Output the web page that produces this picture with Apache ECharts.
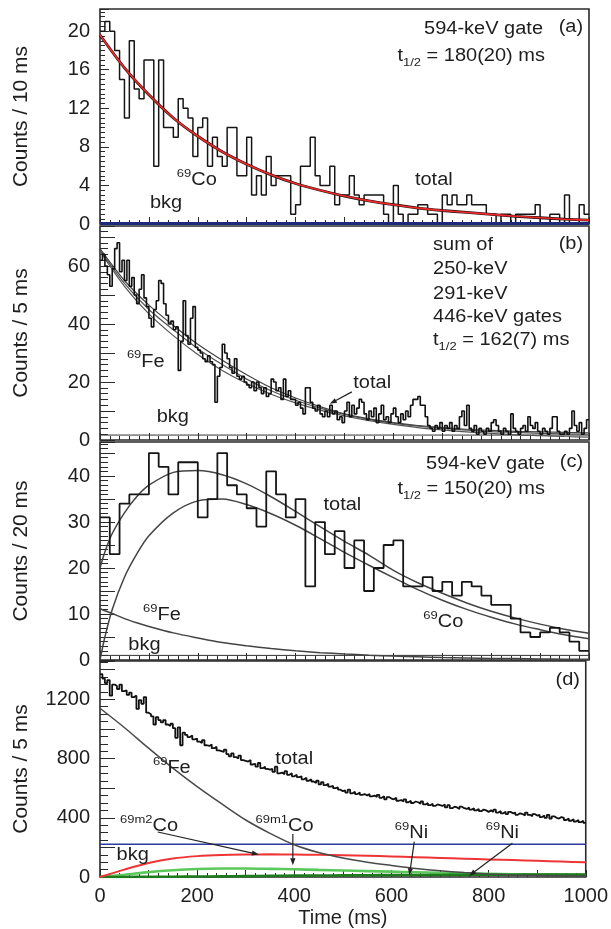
<!DOCTYPE html>
<html>
<head>
<meta charset="utf-8">
<script src="https://cdn.jsdelivr.net/npm/echarts@6/dist/echarts.min.js"></script>
<style>
  html, body { margin: 0; padding: 0; background: #fff; }
  #chart { width: 611px; height: 929px; }
</style>
</head>
<body>
<div id="chart"></div>
<script>
// ---------- (a) 594-keV gate, 10 ms bins ----------
const binWidthA = 10;
const countsA = [
  20, 21, 20, 18, 15, 11, 19, 14, 13, 17,
  17, 6, 17, 10, 10, 9, 13, 12, 11, 7,
  10, 11, 6, 9, 7, 6, 10, 10, 5, 5,
  9, 3, 5, 3, 7, 4, 5, 5, 5, 1,
  2, 6, 6, 9, 5, 4, 4, 6, 2, 3,
  3, 5, 3, 2, 3, 3, 3, 3, 1, 0,
  4, 1, 0, 1, 1, 2, 2, 1, 1, 0,
  3, 2, 3, 2, 2, 3, 2, 2, 2, 1,
  1, 0, 1, 1, 0, 1, 1, 1, 1, 2,
  0, 0, 1, 1, 0, 3, 0, 0, 2, 1
];
const fitTimesA = [0, 50, 100, 150, 200, 250, 300, 350, 400, 450, 500, 550, 600, 650, 700, 750, 800, 850, 900, 950, 1000];
const fitTotalA = [19.6, 16.2, 13.4, 11.0, 9.1, 7.5, 6.2, 5.1, 4.2, 3.5, 2.9, 2.4, 2.0, 1.65, 1.4, 1.2, 1.0, 0.8, 0.65, 0.5, 0.4];
const bkgA = 0.05;

// ---------- (b) 250+291+446-keV gates, 5 ms bins ----------
const binWidthB = 5;
const countsB = [
  62, 64, 60, 57, 53, 59, 66, 68, 58, 62,
  55, 62, 53, 56, 50, 47, 52, 57, 49, 46,
  42, 39, 45, 48, 55, 54, 47, 43, 40, 41,
  38, 39, 24, 34, 48, 36, 33, 42, 46, 32,
  31, 30, 28, 27, 29, 27, 26, 13, 22, 25,
  33, 30, 28, 25, 23, 28, 22, 21, 22, 20,
  19, 18, 20, 17, 20, 18, 16, 18, 15, 16,
  21, 20, 17, 18, 14, 21, 15, 17, 14, 14,
  12, 13, 11, 9, 18, 18, 13, 11, 10, 12,
  9, 8, 10, 8, 12, 9, 10, 7, 8, 6,
  10, 13, 8, 12, 9, 11, 14, 13, 9, 7,
  10, 8, 11, 6, 9, 12, 7, 8, 6, 9,
  11, 8, 6, 9, 7, 10, 8, 12, 14, 14,
  15, 12, 12, 8, 5, 4, 3, 5, 4, 6,
  3, 5, 4, 6, 3, 5, 4, 8, 10, 5,
  12, 4, 3, 5, 2, 4, 3, 2, 4, 3,
  6, 7, 5, 3, 2, 4, 3, 2, 9, 4,
  3, 2, 4, 5, 3, 8, 5, 4, 6, 3,
  2, 4, 3, 2, 4, 8, 8, 3, 2, 2,
  3, 2, 4, 10, 5, 3, 6, 2, 4, 7
];
const fitTimesB = [0, 50, 100, 150, 200, 250, 300, 350, 400, 450, 500, 550, 600, 650, 700, 750, 800, 850, 900, 950, 1000];
const fitTotalB = [66, 55, 46.5, 39.5, 33, 27.5, 22.5, 18, 14.5, 11.5, 9, 7.3, 6, 5, 4.3, 3.7, 3.3, 3, 2.8, 2.6, 2.5];
const fitMidB   = [65.5, 54, 45, 38, 31.5, 26, 21, 17, 13.7, 11, 8.8, 7.1, 5.8, 4.8, 4.0, 3.4, 2.9, 2.6, 2.3, 2.1, 2.0];
const fitFeB    = [65, 53, 43.5, 36, 29.5, 24, 19.5, 15.8, 12.8, 10.3, 8.3, 6.7, 5.4, 4.3, 3.5, 2.8, 2.3, 1.8, 1.5, 1.2, 1.0];
const bkgB = 1.7;

// ---------- (c) 594-keV gate, 20 ms bins ----------
const binWidthC = 20;
const countsC = [
  31, 23, 34, 36, 36, 45, 42, 36, 43, 43,
  31, 35, 45, 38, 36, 33, 29, 41, 36, 31,
  35, 16, 30, 23, 28, 20, 26, 15, 20, 25,
  26, 16, 16, 18, 15, 17, 14, 17, 16, 14,
  12, 12, 9, 6, 5, 6, 7, 6, 4, 2
];
const fitTimesC = [0, 10, 25, 50, 75, 100, 150, 200, 250, 300, 350, 400, 450, 500, 550, 600, 650, 700, 750, 800, 850, 900, 950, 1000];
const fitTotalC = [20, 23.5, 27.5, 32, 35.5, 38, 40.8, 41.2, 40.3, 38.3, 35.5, 32.3, 29, 25.8, 22.8, 19.5, 16.8, 14.5, 12.4, 10.6, 9.1, 7.8, 6.7, 5.8];
const fitCoC    = [0, 5, 11, 18, 23, 27, 32, 34.6, 35, 33.8, 31.8, 29.3, 26.4, 23.4, 20.6, 17.9, 15.3, 13.0, 11.0, 9.3, 7.8, 6.6, 5.5, 4.6];
const fitFeC    = [11.2, 10.7, 10.1, 9.0, 8.1, 7.3, 5.9, 4.8, 3.8, 3.1, 2.5, 2.0, 1.6, 1.3, 1.05, 0.85, 0.7, 0.55, 0.45, 0.35, 0.3, 0.23, 0.19, 0.15];
const bkgC = 1.0;

// ---------- (d) all beta events, 5 ms bins ----------
const binWidthD = 5;
const countsD = [
  1370, 1340, 1310, 1330, 1225, 1300, 1290, 1270, 1300, 1255,
  1260, 1230, 1245, 1215, 1225, 1135, 1195, 1170, 1215, 1110,
  1100, 1085, 1030, 1080, 1060, 1045, 1060, 1030, 1020, 1035,
  1005, 940, 1010, 890, 975, 960, 945, 955, 930, 935,
  915, 905, 925, 890, 885, 895, 870, 880, 855, 850,
  845, 860, 830, 815, 835, 810, 800, 820, 790, 785,
  780, 790, 760, 765, 745, 770, 735, 745, 730, 725,
  730, 710, 745, 700, 705, 695, 715, 690, 700, 680,
  690, 675, 680, 660, 670, 650, 660, 645, 635, 650,
  625, 640, 620, 630, 610, 615, 600, 605, 590, 580,
  585, 570, 590, 565, 575, 560, 570, 555, 560, 550,
  560, 545, 550, 540, 555, 535, 545, 525, 540, 530,
  525, 535, 515, 520, 510, 525, 505, 515, 500, 510,
  505, 495, 510, 490, 500, 485, 495, 480, 490, 485,
  480, 490, 470, 485, 465, 475, 470, 460, 475, 465,
  460, 470, 455, 465, 450, 460, 445, 455, 450, 440,
  450, 440, 455, 435, 445, 430, 440, 425, 440, 430,
  435, 420, 430, 425, 415, 435, 420, 410, 425, 415,
  420, 405, 415, 400, 420, 395, 410, 400, 395, 405,
  400, 385, 395, 380, 390, 375, 385, 370, 380, 365
];
const fitTimesD = [0, 50, 100, 150, 200, 250, 300, 350, 400, 450, 500, 550, 600, 650, 700, 750, 800, 850, 900, 950, 1000];
const fitFeD   = [1140, 1010, 870, 735, 610, 495, 385, 295, 218, 165, 128, 100, 78, 58, 42, 30, 21, 14, 10, 7, 5];
const fitCoM2D = [0, 50, 95, 125, 141, 149, 152, 153, 152, 150, 147, 143, 139, 134, 129, 124, 119, 114, 109, 104, 99];
const fitCoM1D = [0, 15, 33, 46, 54, 57, 57, 55, 52, 48, 44, 40, 36, 32, 28, 25, 22, 19, 17, 15, 13];
const fitNiD   = [0, 0.5, 1, 2, 3, 4.5, 6, 7.5, 9, 10, 11, 12, 13, 13.5, 14, 14.5, 15, 15.5, 16, 16, 16];
const bkgD = 222;

// tick labels on the time axis
const timeTicks = [0, 200, 400, 600, 800, 1000];

// ---------- layout of the four stacked panels ----------
const FONT = '"Liberation Sans", Arial, Helvetica, sans-serif';
const INK = '#1e1e1e';
const FRAME = '#2a2a2a';
const panels = [
  { top: 9,   height: 215, yMax: 22.3, tickStep: 4,   labelStep: 4,   minorSplit: 8, tickLen: 9,  minorLen: 5, title: 'Counts / 10 ms' },
  { top: 226, height: 214, yMax: 73.8, tickStep: 10,  labelStep: 20,  minorSplit: 5, tickLen: 15, minorLen: 8, title: 'Counts / 5 ms' },
  { top: 442, height: 218, yMax: 47.4, tickStep: 5,   labelStep: 10,  minorSplit: 5, tickLen: 15, minorLen: 8, title: 'Counts / 20 ms' },
  { top: 661, height: 216, yMax: 1459, tickStep: 200, labelStep: 400, minorSplit: 4, tickLen: 15, minorLen: 8, title: 'Counts / 5 ms' }
];

function histPoints(counts, width) {
  const pts = counts.map((c, k) => [k * width, c]);
  pts.push([counts.length * width, counts[counts.length - 1]]);
  return pts;
}
function curvePoints(times, vals) {
  return times.map((t, i) => [t, vals[i]]);
}
function flatPoints(v) {
  return [[0, v], [1000, v]];
}

const grids = [], xAxes = [], yAxes = [];
panels.forEach((p, i) => {
  grids.push({
    left: 100, right: 22, top: p.top, height: p.height,
    show: true, borderColor: FRAME, borderWidth: 1.6, backgroundColor: 'transparent'
  });
  xAxes.push({
    type: 'value', gridIndex: i, min: 0, max: 1000, interval: 100, position: 'bottom',
    axisLine: { show: false },
    axisTick: { inside: true, length: 7, lineStyle: { color: FRAME, width: 1 } },
    minorTick: { show: true, splitNumber: 5, length: 4, lineStyle: { color: FRAME, width: 1 } },
    splitLine: { show: false }, minorSplitLine: { show: false },
    axisLabel: i === 3 ? {
      show: true, fontSize: 20, color: INK, fontFamily: FONT, margin: 9,
      formatter: v => (timeTicks.indexOf(v) >= 0 ? String(v) : '')
    } : { show: false }
  });
  yAxes.push({
    type: 'value', gridIndex: i, min: 0, max: p.yMax, interval: p.tickStep,
    axisLine: { show: false },
    axisTick: { inside: true, length: p.tickLen, lineStyle: { color: FRAME, width: 1 } },
    minorTick: { show: true, splitNumber: p.minorSplit, length: p.minorLen, lineStyle: { color: FRAME, width: 1 } },
    splitLine: { show: false }, minorSplitLine: { show: false },
    axisLabel: {
      fontSize: 20, color: INK, fontFamily: FONT, margin: 10,
      formatter: v => (Math.abs(v % p.labelStep) < 1e-9 ? String(v) : '')
    }
  });
});

function lineSeries(panel, data, color, width, extra) {
  return Object.assign({
    type: 'line', xAxisIndex: panel, yAxisIndex: panel, data: data,
    symbol: 'none', showSymbol: false, silent: true, animation: false, clip: true,
    lineStyle: { color: color, width: width }
  }, extra || {});
}
const histStyle = { step: 'end' };
const smoothStyle = { smooth: 0.3 };

const series = [
  // (a)
  lineSeries(0, histPoints(countsA, binWidthA), '#151515', 1.5, histStyle),
  lineSeries(0, curvePoints(fitTimesA, fitTotalA), '#2a1010', 2.8, smoothStyle),
  lineSeries(0, curvePoints(fitTimesA, fitTotalA), '#ee2a2a', 1.6, smoothStyle),
  lineSeries(0, flatPoints(bkgA), '#1d2a7a', 3),
  // (b)
  lineSeries(1, flatPoints(bkgB), '#333', 1),
  lineSeries(1, curvePoints(fitTimesB, fitFeB), '#555', 1.2, smoothStyle),
  lineSeries(1, curvePoints(fitTimesB, fitMidB), '#555', 1.2, smoothStyle),
  lineSeries(1, curvePoints(fitTimesB, fitTotalB), '#444', 1.2, smoothStyle),
  lineSeries(1, histPoints(countsB, binWidthB), '#111', 1.6, histStyle),
  // (c)
  lineSeries(2, flatPoints(bkgC), '#333', 1),
  lineSeries(2, curvePoints(fitTimesC, fitFeC), '#444', 1.5, smoothStyle),
  lineSeries(2, curvePoints(fitTimesC, fitCoC), '#444', 1.5, smoothStyle),
  lineSeries(2, curvePoints(fitTimesC, fitTotalC), '#444', 1.5, smoothStyle),
  lineSeries(2, histPoints(countsC, binWidthC), '#151515', 1.8, histStyle),
  // (d)
  lineSeries(3, flatPoints(bkgD), '#2b3a9e', 1.5),
  lineSeries(3, curvePoints(fitTimesD, fitCoM1D), '#5cc85c', 2.6, smoothStyle),
  lineSeries(3, curvePoints(fitTimesD, fitNiD), '#1d7a1d', 2.6, smoothStyle),
  lineSeries(3, curvePoints(fitTimesD, fitCoM2D), '#ee3535', 2, smoothStyle),
  lineSeries(3, curvePoints(fitTimesD, fitFeD), '#4a4a4a', 1.5, smoothStyle),
  lineSeries(3, histPoints(countsD, binWidthD), '#111', 1.8, histStyle)
];

const chart = echarts.init(document.getElementById('chart'), null, { renderer: 'canvas' });
chart.setOption({
  animation: false,
  backgroundColor: '#fff',
  grid: grids, xAxis: xAxes, yAxis: yAxes, series: series
});

// ---------- text annotations and arrows, placed in data coordinates ----------
const FS = 20;
const TEXT_SCALE_Y = 0.88;
const richStyles = {
  m: { fontSize: FS, fontFamily: FONT, fill: INK, lineHeight: 28 },
  sup: { fontSize: 13, fontFamily: FONT, fill: INK, lineHeight: 12, verticalAlign: 'top' },
  sub: { fontSize: 13, fontFamily: FONT, fill: INK, lineHeight: 12, verticalAlign: 'bottom' }
};
const notes = [
  { p: 0, t: 906, v: 20.2, s: '{m|594-keV gate}', align: 'right' },
  { p: 0, t: 988, v: 20.4, s: '{m|(a)}', align: 'right' },
  { p: 0, t: 910, v: 17.4, s: '{m|t}{sub|1/2}{m| = 180(20) ms}', align: 'right' },
  { p: 0, t: 644, v: 4.5, s: '{m|total}', align: 'left' },
  { p: 0, t: 157, v: 4.5, s: '{sup|69}{m|Co}', align: 'left' },
  { p: 0, t: 102, v: 2.2, s: '{m|bkg}', align: 'left' },

  { p: 1, t: 988, v: 67.4, s: '{m|(b)}', align: 'right' },
  { p: 1, t: 681, v: 67.2, s: '{m|sum of}', align: 'left' },
  { p: 1, t: 681, v: 58.8, s: '{m|250-keV}', align: 'left' },
  { p: 1, t: 681, v: 50.2, s: '{m|291-keV}', align: 'left' },
  { p: 1, t: 681, v: 42.2, s: '{m|446-keV gates}', align: 'left' },
  { p: 1, t: 681, v: 34.3, s: '{m|t}{sub|1/2}{m| = 162(7) ms}', align: 'left' },
  { p: 1, t: 518, v: 19.7, s: '{m|total}', align: 'left' },
  { p: 1, t: 55, v: 27, s: '{sup|69}{m|Fe}', align: 'left' },
  { p: 1, t: 116, v: 7.9, s: '{m|bkg}', align: 'left' },

  { p: 2, t: 910, v: 42.5, s: '{m|594-keV gate}', align: 'right' },
  { p: 2, t: 988, v: 43, s: '{m|(c)}', align: 'right' },
  { p: 2, t: 910, v: 37.2, s: '{m|t}{sub|1/2}{m| = 150(20) ms}', align: 'right' },
  { p: 2, t: 457, v: 33.6, s: '{m|total}', align: 'left' },
  { p: 2, t: 88, v: 9.7, s: '{sup|69}{m|Fe}', align: 'left' },
  { p: 2, t: 58, v: 3.3, s: '{m|bkg}', align: 'left' },
  { p: 2, t: 661, v: 8.2, s: '{sup|69}{m|Co}', align: 'left' },

  { p: 3, t: 988, v: 1328, s: '{m|(d)}', align: 'right' },
  { p: 3, t: 361, v: 797, s: '{m|total}', align: 'left' },
  { p: 3, t: 109, v: 736, s: '{sup|69}{m|Fe}', align: 'left' },
  { p: 3, t: 41, v: 341, s: '{sup|69m2}{m|Co}', align: 'left' },
  { p: 3, t: 320, v: 341, s: '{sup|69m1}{m|Co}', align: 'left' },
  { p: 3, t: 34, v: 149, s: '{m|bkg}', align: 'left' },
  { p: 3, t: 607, v: 297, s: '{sup|69}{m|Ni}', align: 'left' },
  { p: 3, t: 794, v: 297, s: '{sup|69}{m|Ni}', align: 'left' }
];
const arrows = [
  { p: 1, from: [515, 16.6], to: [470, 12.5] },
  { p: 3, from: [119, 304], to: [327, 152] },
  { p: 3, from: [397, 290], to: [397, 80] },
  { p: 3, from: [647, 239], to: [637, 12] },
  { p: 3, from: [849, 228], to: [760, 8] }
];

function toPx(p, t, v) {
  return chart.convertToPixel({ xAxisIndex: p, yAxisIndex: p }, [t, v]);
}

const elems = [];
notes.forEach(n => {
  const pt = toPx(n.p, n.t, n.v);
  elems.push({
    type: 'text', x: pt[0], y: pt[1], scaleY: TEXT_SCALE_Y, silent: true, z: 100,
    style: {
      text: n.s, rich: richStyles, fontSize: FS, fontFamily: FONT, fill: INK,
      align: n.align, verticalAlign: 'middle', textAlign: n.align, textVerticalAlign: 'middle'
    }
  });
});
arrows.forEach(a => {
  const p1 = toPx(a.p, a.from[0], a.from[1]);
  const p2 = toPx(a.p, a.to[0], a.to[1]);
  const dx = p2[0] - p1[0], dy = p2[1] - p1[1];
  const len = Math.sqrt(dx * dx + dy * dy) || 1;
  const ux = dx / len, uy = dy / len;
  const hl = 7, hw = 2.6;
  elems.push({
    type: 'line', silent: true, z: 100,
    shape: { x1: p1[0], y1: p1[1], x2: p2[0] - ux * hl * 0.6, y2: p2[1] - uy * hl * 0.6 },
    style: { stroke: '#222', lineWidth: 1.2 }
  });
  elems.push({
    type: 'polygon', silent: true, z: 100,
    shape: { points: [
      [p2[0], p2[1]],
      [p2[0] - ux * hl - uy * hw, p2[1] - uy * hl + ux * hw],
      [p2[0] - ux * hl + uy * hw, p2[1] - uy * hl - ux * hw]
    ] },
    style: { fill: '#222' }
  });
});
// axis titles
panels.forEach(p => {
  elems.push({
    type: 'text', x: 21, y: p.top + p.height / 2, rotation: Math.PI / 2, silent: true,
    style: {
      text: p.title, fontSize: 21, fontFamily: FONT, fill: INK,
      align: 'center', verticalAlign: 'middle', textAlign: 'center', textVerticalAlign: 'middle'
    }
  });
});
const xMid = toPx(3, 500, 0);
elems.push({
  type: 'text', x: xMid[0], y: 918, silent: true,
  style: {
    text: 'Time (ms)', fontSize: 20, fontFamily: FONT, fill: INK,
    align: 'center', verticalAlign: 'middle', textAlign: 'center', textVerticalAlign: 'middle'
  }
});
chart.setOption({ graphic: elems });
</script>
</body>
</html>
